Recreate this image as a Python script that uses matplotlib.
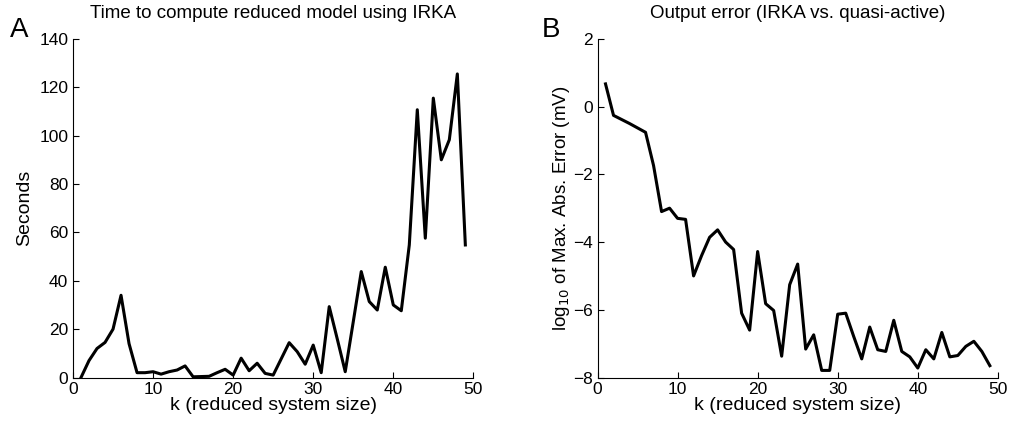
"""Reduced model timing and output error for IRKA."""

import numpy as np
import matplotlib.pyplot as plt

plt.rcParams['font.family'] = ['Liberation Sans', 'DejaVu Sans']

# reduced system size
k = np.arange(1, 50)

# panel A: time to compute reduced model (s)
seconds = [0, 7, 12, 14.5, 20, 34, 14, 2, 2, 2.4,
           1.4, 2.4, 3.1, 4.8, 0.3, 0.4, 0.5, 2, 3.4, 1,
           8, 2.8, 5.9, 1.7, 1, 7.7, 14.4, 10.7, 5.5, 13.4,
           2, 29.3, 16, 2.4, 23, 43.8, 31.4, 27.9, 45.6, 30,
           27.6, 54.8, 110.7, 57.6, 115.5, 90, 98.3, 125.5, 54.8]

# panel B: log10 of max abs error (mV)
log_err = [0.67, -0.26, -0.38, -0.5, -0.63, -0.76, -1.74, -3.1, -3.0, -3.3,
           -3.33, -5.0, -4.4, -3.86, -3.64, -4.0, -4.22, -6.1, -6.6, -4.28,
           -5.82, -6.02, -7.37, -5.26, -4.65, -7.16, -6.74, -7.79, -7.79, -6.13,
           -6.1, -6.79, -7.45, -6.51, -7.18, -7.23, -6.31, -7.23, -7.39, -7.72,
           -7.18, -7.45, -6.67, -7.39, -7.35, -7.08, -6.93, -7.23, -7.65]


def style_axes(ax):
    """MATLAB-ish look: box off, ticks inside."""
    ax.spines['top'].set_visible(False)
    ax.spines['right'].set_visible(False)
    ax.tick_params(direction='in', length=4, labelsize=12.5, width=0.8)


fig = plt.figure(figsize=(10.11, 4.26), dpi=100)

ax_a = fig.add_axes([0.0722, 0.1138, 0.396, 0.795])
ax_a.plot(k, seconds, color='black', lw=2.2)
ax_a.set_xlim(0, 50)
ax_a.set_ylim(0, 140)
ax_a.set_xticks(range(0, 51, 10))
ax_a.set_yticks(range(0, 141, 20))
ax_a.set_xlabel('k (reduced system size)', fontsize=14, labelpad=0)
ax_a.set_ylabel('Seconds', fontsize=14, labelpad=4)
ax_a.set_title('Time to compute reduced model using IRKA', fontsize=13.5,
               pad=15)
style_axes(ax_a)

ax_b = fig.add_axes([0.591, 0.1138, 0.396, 0.795])
ax_b.plot(k, log_err, color='black', lw=2.2)
ax_b.set_xlim(0, 50)
ax_b.set_ylim(-8, 2)
ax_b.set_xticks(range(0, 51, 10))
ax_b.set_yticks(range(-8, 3, 2))
ax_b.set_yticklabels(['\u22128', '\u22126', '\u22124', '\u22122', '0', '2'])
ax_b.set_xlabel('k (reduced system size)', fontsize=14, labelpad=0)
ax_b.set_ylabel('log$_{10}$ of Max. Abs. Error (mV)', fontsize=13.5,
                labelpad=1)
ax_b.set_title('Output error (IRKA vs. quasi-active)', fontsize=13.5, pad=15)
style_axes(ax_b)

# panel letters
fig.text(0.010, 0.913, 'A', fontsize=20, va='baseline')
fig.text(0.536, 0.913, 'B', fontsize=20, va='baseline')

fig.savefig('out.png', dpi=100)
